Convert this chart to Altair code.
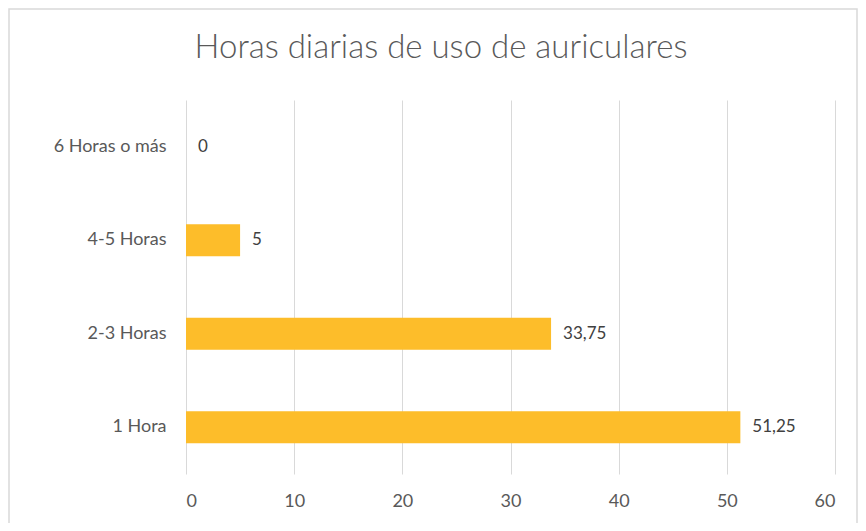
import altair as alt
import pandas as pd

categories = ["6 Horas o más", "4-5 Horas", "2-3 Horas", "1 Hora"]
values = [0, 5, 33.75, 51.25]
x_ticks = [0, 10, 20, 30, 40, 50, 60]
title_text = ["Horas diarias de uso de auriculares"]

df = pd.DataFrame({"cat": categories, "val": values})

FONT = "Lato"
W, H = 649, 374

base = alt.Chart(df)

bars = base.mark_bar(size=32, color="#FDBD2A").encode(
    y=alt.Y("cat:N", sort=categories, title=None,
            scale=alt.Scale(paddingInner=0, paddingOuter=0),
            axis=alt.Axis(ticks=False, domain=False, labelPadding=20,
                          labelFontSize=18, labelColor="#595959", labelFont=FONT)),
    x=alt.X("val:Q", title=None,
            scale=alt.Scale(domain=[0, 60], nice=False),
            axis=alt.Axis(values=x_ticks, ticks=False, domain=False, labelPadding=18,
                          labelFontSize=18, labelColor="#595959", labelFont=FONT,
                          grid=True, gridColor="#D9D9D9", gridWidth=1)),
)

labels = base.mark_text(align="left", baseline="middle", dx=12, fontSize=17,
                        color="#404040", font=FONT).transform_calculate(
    lbl="replace(format(datum.val, '.2~f'), '.', ',')"
).encode(
    y=alt.Y("cat:N", sort=categories),
    x=alt.X("val:Q"),
    text="lbl:N",
)

title = alt.Chart(pd.DataFrame({"t": title_text})).mark_text(
    align="center", baseline="alphabetic", fontSize=33, font=FONT,
    fontWeight=300, color="#595959", clip=False
).encode(
    x=alt.value(255), y=alt.value(-42), text="t:N"
)

border = alt.Chart(pd.DataFrame({"a": [0]})).mark_rect(
    fill=None, stroke="#D9D9D9", strokeWidth=1.5, clip=False
).encode(
    x=alt.value(-177), x2=alt.value(671), y=alt.value(-91), y2=alt.value(424)
)

chart = alt.layer(border, bars, labels, title).properties(
    width=W, height=H,
    padding={"left": 178, "top": 92, "right": 23, "bottom": 49},
    autosize=alt.AutoSizeParams(type="none"),
).configure(background="white").configure_view(stroke=None)

chart.save("out.html", embed_options={"renderer": "svg", "actions": False})
